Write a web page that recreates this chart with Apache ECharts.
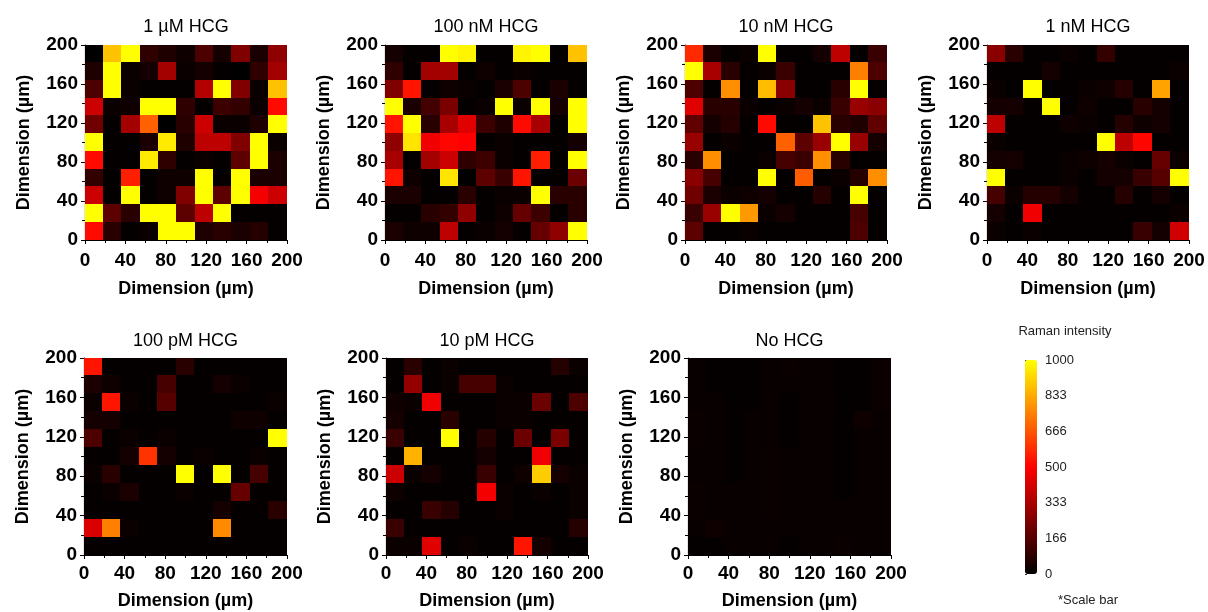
<!DOCTYPE html>
<html><head><meta charset="utf-8">
<script src="https://cdn.jsdelivr.net/npm/echarts@6/dist/echarts.min.js"></script>
<style>html,body{margin:0;padding:0;background:#fff}#chart{width:1208px;height:612px}</style>
</head><body><div id="chart"></div>
<script>
// ---------- DATA (rows listed top -> bottom, columns left -> right) ----------
const panelTitles = ['1 µM HCG', '100 nM HCG', '10 nM HCG', '1 nM HCG', '100 pM HCG', '10 pM HCG', 'No HCG'];
const colorbarTicks = ['0', '166', '333', '500', '666', '833', '1000'];
const axisName = 'Dimension (µm)';
const mapSize = 200;   // µm, full scan edge
const cellsPerSide = 11;

const hcg1uM = [
  [0, 880, 1000, 90, 60, 30, 150, 40, 250, 50, 280],
  [60, 1000, 20, 40, 320, 20, 40, 10, 0, 90, 320],
  [150, 1000, 20, 10, 10, 10, 350, 1000, 250, 20, 880],
  [400, 20, 30, 1000, 1000, 90, 10, 120, 100, 20, 520],
  [220, 10, 320, 690, 0, 80, 400, 20, 20, 60, 1000],
  [1000, 10, 10, 50, 960, 60, 370, 370, 250, 1000, 20],
  [520, 10, 10, 960, 90, 10, 20, 10, 180, 1000, 50],
  [100, 10, 560, 10, 30, 30, 1000, 10, 1000, 50, 50],
  [400, 10, 1000, 10, 30, 250, 1000, 180, 1000, 480, 400],
  [1000, 180, 80, 1000, 1000, 180, 370, 1000, 10, 10, 10],
  [520, 80, 10, 20, 1000, 1000, 60, 80, 50, 70, 10]
];
const hcg100nM = [
  [40, 10, 10, 1000, 980, 10, 10, 980, 1000, 10, 880],
  [90, 10, 320, 320, 10, 30, 10, 20, 10, 10, 10],
  [250, 540, 10, 30, 20, 10, 50, 150, 10, 50, 10],
  [1000, 50, 130, 240, 10, 20, 1000, 20, 1000, 40, 1000],
  [540, 1000, 80, 330, 440, 120, 60, 520, 330, 10, 1000],
  [280, 950, 470, 510, 500, 10, 20, 10, 10, 10, 40],
  [330, 10, 320, 400, 90, 120, 20, 10, 560, 10, 1000],
  [540, 30, 10, 950, 0, 180, 110, 540, 10, 10, 210],
  [50, 50, 10, 10, 80, 10, 20, 20, 1000, 80, 80],
  [10, 10, 80, 100, 280, 10, 30, 200, 120, 10, 80],
  [50, 30, 30, 370, 10, 20, 40, 10, 200, 280, 1000]
];
const hcg10nM = [
  [580, 50, 10, 20, 1000, 10, 10, 40, 370, 10, 110],
  [1000, 330, 80, 10, 20, 110, 10, 10, 10, 750, 150],
  [150, 10, 780, 10, 870, 270, 10, 10, 80, 1000, 10],
  [440, 80, 80, 20, 10, 20, 40, 20, 110, 300, 270],
  [190, 40, 70, 10, 520, 10, 10, 880, 80, 60, 190],
  [300, 10, 20, 10, 10, 690, 180, 300, 1000, 300, 40],
  [80, 780, 10, 10, 20, 140, 110, 780, 80, 10, 10],
  [270, 140, 10, 10, 1000, 10, 680, 10, 20, 70, 780],
  [220, 50, 20, 30, 40, 10, 10, 70, 10, 1000, 10],
  [110, 300, 1000, 800, 20, 40, 10, 10, 10, 140, 10],
  [180, 10, 10, 20, 10, 10, 10, 10, 10, 150, 10]
];
const hcg1nM = [
  [270, 80, 10, 10, 20, 10, 100, 10, 10, 10, 10],
  [10, 10, 10, 40, 10, 10, 10, 10, 10, 10, 20],
  [20, 10, 1000, 10, 10, 20, 30, 70, 10, 820, 10],
  [40, 40, 10, 1000, 10, 30, 10, 10, 80, 40, 10],
  [370, 10, 10, 10, 30, 20, 10, 70, 30, 40, 10],
  [20, 10, 10, 10, 10, 10, 1000, 370, 510, 10, 10],
  [40, 40, 10, 10, 20, 30, 40, 20, 10, 200, 20],
  [1000, 10, 10, 10, 20, 10, 40, 40, 110, 170, 1000],
  [140, 20, 70, 70, 40, 10, 10, 70, 10, 40, 10],
  [40, 10, 470, 10, 10, 10, 10, 10, 10, 10, 20],
  [20, 10, 20, 10, 10, 10, 10, 10, 110, 40, 410]
];
const hcg100pM = [
  [540, 10, 10, 10, 10, 80, 10, 10, 10, 10, 10],
  [50, 30, 10, 10, 140, 10, 10, 40, 20, 10, 10],
  [20, 540, 20, 10, 170, 10, 10, 10, 10, 10, 20],
  [40, 40, 10, 10, 10, 10, 10, 10, 30, 30, 10],
  [150, 10, 20, 10, 20, 10, 10, 10, 10, 10, 1000],
  [10, 10, 40, 600, 40, 10, 20, 10, 10, 20, 10],
  [20, 80, 10, 10, 10, 1000, 10, 1000, 10, 140, 10],
  [10, 20, 50, 10, 10, 20, 10, 10, 200, 10, 10],
  [10, 10, 10, 10, 10, 10, 10, 40, 10, 10, 80],
  [430, 750, 20, 10, 10, 10, 10, 770, 10, 10, 10],
  [10, 10, 10, 10, 10, 10, 10, 10, 10, 10, 10]
];
const hcg10pM = [
  [10, 80, 10, 20, 10, 10, 10, 10, 10, 70, 20],
  [10, 290, 10, 20, 140, 140, 20, 10, 10, 10, 10],
  [30, 20, 470, 10, 10, 10, 20, 20, 210, 10, 150],
  [40, 10, 10, 80, 10, 10, 20, 20, 10, 10, 10],
  [110, 10, 10, 1000, 10, 70, 10, 210, 10, 240, 10],
  [10, 850, 10, 10, 10, 40, 10, 10, 470, 10, 10],
  [400, 20, 40, 10, 10, 110, 10, 30, 900, 40, 20],
  [30, 10, 10, 10, 10, 480, 20, 10, 20, 10, 20],
  [10, 10, 110, 70, 10, 10, 20, 10, 10, 10, 20],
  [110, 10, 10, 10, 10, 10, 10, 10, 10, 10, 70],
  [20, 20, 440, 10, 20, 10, 10, 540, 40, 10, 10]
];
const noHCG = [
  [15, 10, 10, 10, 15, 20, 15, 15, 10, 10, 20],
  [15, 10, 10, 10, 15, 15, 15, 15, 10, 10, 20],
  [15, 15, 10, 10, 15, 10, 15, 15, 5, 10, 20],
  [20, 15, 10, 15, 15, 10, 15, 15, 10, 30, 15],
  [20, 15, 10, 15, 15, 10, 15, 15, 10, 15, 15],
  [15, 15, 10, 15, 20, 15, 15, 15, 10, 15, 15],
  [15, 15, 10, 15, 20, 15, 15, 15, 10, 15, 15],
  [20, 15, 15, 15, 20, 15, 15, 15, 10, 15, 15],
  [20, 15, 15, 15, 20, 15, 15, 15, 15, 15, 15],
  [15, 30, 15, 15, 15, 15, 15, 15, 15, 15, 15],
  [10, 10, 15, 15, 15, 10, 15, 15, 20, 15, 15]
];
const panelData = [hcg1uM, hcg100nM, hcg10nM, hcg1nM, hcg100pM, hcg10pM, noHCG];

// ---------- LAYOUT ----------
const grids = [
  {left: 85, top: 45, width: 202, height: 195},
  {left: 385, top: 45, width: 202, height: 195},
  {left: 685, top: 45, width: 202, height: 195},
  {left: 987, top: 45, width: 202, height: 195},
  {left: 84, top: 358, width: 203, height: 197},
  {left: 386, top: 358, width: 202, height: 197},
  {left: 688, top: 358, width: 203, height: 197},
  {left: 1025, top: 360, width: 12, height: 214}
];
const FONT = 'Liberation Sans, Arial, sans-serif';
const step = mapSize / cellsPerSide;

function renderCell(params, api) {
  const c = api.value(0), r = api.value(1);
  const p0 = api.coord([c * step, (r + 1) * step]);
  const p1 = api.coord([(c + 1) * step, r * step]);
  const x0 = Math.floor(p0[0]), y0 = Math.floor(p0[1]);
  const x1 = Math.ceil(p1[0]), y1 = Math.ceil(p1[1]);
  return {
    type: 'rect',
    shape: {x: x0, y: y0, width: x1 - x0, height: y1 - y0},
    style: {fill: api.visual('color')}
  };
}

const xAxes = [], yAxes = [], series = [], titles = [];
panelData.forEach((rows, i) => {
  const topRow = i < 4;
  const base = {
    gridIndex: i, type: 'value', min: 0, max: mapSize, interval: 40,
    name: axisName, nameLocation: 'middle',
    nameTextStyle: {fontFamily: FONT, fontWeight: 'bold', fontSize: 18, color: '#000'},
    axisLine: {show: true, lineStyle: {color: '#000', width: 1.2}},
    axisTick: {show: true, length: 4, lineStyle: {color: '#000'}},
    minorTick: {show: true, splitNumber: 2, length: 3, lineStyle: {color: '#000'}},
    splitLine: {show: false}
  };
  xAxes.push(Object.assign({}, base, {position: 'bottom', nameGap: topRow ? 40 : 37,
    axisLabel: {margin: topRow ? 11 : 9, fontFamily: FONT, fontWeight: 'bold', fontSize: 19, color: '#000'}}));
  yAxes.push(Object.assign({}, base, {position: 'left', nameGap: 52,
    axisLabel: {margin: 7, fontFamily: FONT, fontWeight: 'bold', fontSize: 19, color: '#000'}}));

  const data = [];
  rows.forEach((row, r) => row.forEach((v, c) => data.push([c, rows.length - 1 - r, v])));
  series.push({
    type: 'custom', xAxisIndex: i, yAxisIndex: i, data: data,
    encode: {x: 0, y: 1}, renderItem: renderCell, silent: true, clip: true
  });
  const g = grids[i];
  titles.push({
    text: panelTitles[i], left: g.left + g.width / 2, top: g.top - (topRow ? 27 : 26),
    textAlign: 'center', padding: 0,
    textStyle: {fontFamily: FONT, fontWeight: 'normal', fontSize: 18, color: '#000'}
  });
});

// colorbar axis
xAxes.push({gridIndex: 7, type: 'value', show: false, min: 0, max: 1});
yAxes.push({
  gridIndex: 7, type: 'value', min: 0, max: 1000, interval: 1000 / 6, position: 'right',
  axisLine: {show: false}, splitLine: {show: false},
  axisTick: {show: true, length: 2, lineStyle: {color: '#333'}},
  axisLabel: {margin: 8, fontFamily: FONT, fontSize: 13, color: '#222',
    formatter: (v, idx) => colorbarTicks[idx]}
});
titles.push({text: 'Raman intensity', left: 1065, top: 325, textAlign: 'center', padding: 0,
  textStyle: {fontFamily: FONT, fontWeight: 'normal', fontSize: 13, color: '#222'}});
titles.push({text: '*Scale bar', left: 1088, top: 594, textAlign: 'center', padding: 0,
  textStyle: {fontFamily: FONT, fontWeight: 'normal', fontSize: 13, color: '#222'}});

const chart = echarts.init(document.getElementById('chart'), null, {renderer: 'canvas'});
chart.setOption({
  backgroundColor: '#fff',
  animation: false,
  title: titles,
  grid: grids.map(g => Object.assign({containLabel: false}, g)),
  xAxis: xAxes,
  yAxis: yAxes,
  visualMap: {
    type: 'continuous', min: 0, max: 1000, dimension: 2,
    seriesIndex: [0, 1, 2, 3, 4, 5, 6],
    orient: 'vertical', left: 1025, top: 360, itemWidth: 12, itemHeight: 214,
    padding: 0, calculable: false, hoverLink: false, text: null, showLabel: false,
    inRange: {color: ['#000000', '#ff0000', '#ffff00']}
  },
  series: series
});
</script></body></html>
